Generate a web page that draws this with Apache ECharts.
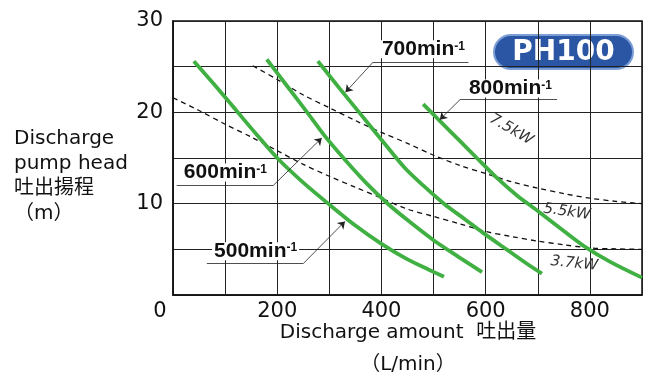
<!DOCTYPE html>
<html>
<head>
<meta charset="utf-8">
<title>PH100 性能曲線</title>
<script src="https://cdn.jsdelivr.net/npm/echarts@6/dist/echarts.min.js"></script>
<style>
    body { margin: 0; background: #fff; }
    #main { width: 648px; height: 374px; }
</style>
</head>
<body>
<div id="main"></div>
<script>
// 回転数ごとの吐出量-揚程 [L/min, m]
var rpm500 = [[40,25.6],[80,23.0],[120,20.3],[160,17.6],[200,15.0],[250,12.3],[300,9.9],[350,7.6],[400,5.6],[450,3.9],[490,2.8],[520,2.0]];
var rpm600 = [[180,25.8],[220,22.8],[260,19.8],[290,17.5],[330,14.8],[370,12.3],[410,10.1],[450,8.2],[500,6.0],[550,4.1],[593,2.5]];
var rpm700 = [[278,25.6],[320,22.6],[360,19.8],[400,17.0],[445,13.9],[480,12.0],[520,10.0],[560,8.3],[595,6.8],[640,5.0],[680,3.4],[708,2.35]];
var rpm800 = [[480,20.9],[513,19.0],[550,16.9],[583,15.0],[620,12.9],[660,10.9],[700,9.2],[750,7.0],[790,5.3],[840,3.6],[900,1.9]];

// 動力の境界 (7.5kW / 5.5kW, 5.5kW / 3.7kW)
var kwUpper = [[153,25.1],[200,23.6],[250,21.9],[300,20.5],[350,19.1],[400,17.8],[450,16.6],[500,15.3],[550,14.2],[600,13.3],[650,12.4],[700,11.7],[750,11.1],[800,10.6],[850,10.25],[900,10.0]];
var kwLower = [[0,21.6],[50,20.2],[100,18.7],[150,17.3],[200,15.8],[250,14.3],[300,13.0],[350,11.8],[400,10.6],[450,9.4],[500,8.6],[550,7.8],[600,6.95],[650,6.4],[700,5.9],[750,5.5],[800,5.15],[850,5.05],[900,5.0]];

var xTicks = [0, 200, 400, 600, 800];
var yTicks = [10, 20, 30];
var speeds = ['500', '600', '700', '800'];
var powers = ['7.5kW', '5.5kW', '3.7kW'];

var myChart = echarts.init(document.getElementById('main'));

var green = '#3fb041';
var ink = '#111';

// 回転数ラベル + 引出線
function speedMarks(name, textAt, lineL, lineR, from, tip) {
    return {
        markPoint: {
            silent: true,
            symbol: 'circle',
            symbolSize: 0,
            data: [{ name: name, coord: textAt }],
            label: {
                show: true,
                position: 'right',
                distance: 0,
                backgroundColor: '#fff',
                padding: [0, 2, 0, 2],
                formatter: function (p) { return '{a|' + p.name + 'min}{s|-1}'; },
                rich: {
                    a: { fontFamily: 'Liberation Sans', fontWeight: 'bold', fontSize: 21, color: ink, lineHeight: 18 },
                    s: { fontFamily: 'Liberation Sans', fontWeight: 'bold', fontSize: 12, color: ink, lineHeight: 8, verticalAlign: 'top' }
                }
            }
        },
        markLine: {
            silent: true,
            symbol: ['none', 'none'],
            label: { show: false },
            lineStyle: { color: '#222', width: 0.8, type: 'solid' },
            data: [
                [{ coord: lineL }, { coord: lineR }],
                [{ coord: from }, { coord: tip, symbol: 'arrow', symbolSize: 7 }]
            ]
        }
    };
}

function kwMarks(items) {
    return {
        markPoint: {
            silent: true,
            symbol: 'circle',
            symbolSize: 0,
            data: items.map(function (it) {
                return { name: it[0], coord: it[1], label: { rotate: it[2] } };
            }),
            label: {
                show: true,
                position: 'inside',
                formatter: '{b}',
                color: '#333',
                fontFamily: 'DejaVu Sans',
                fontStyle: 'italic',
                fontSize: 15
            }
        }
    };
}

function pumpLine(data, extra) {
    return Object.assign({
        type: 'line',
        data: data,
        smooth: 0.3,
        showSymbol: false,
        silent: true,
        lineStyle: { color: green, width: 3.8 }
    }, extra);
}

function powerLine(data, extra) {
    return Object.assign({
        type: 'line',
        data: data,
        smooth: 0.3,
        showSymbol: false,
        silent: true,
        lineStyle: { color: ink, width: 1.3, type: [5, 4] }
    }, extra);
}

var option = {
    animation: false,
    grid: {
        left: 173, top: 21, width: 469, height: 274,
        show: true, borderColor: ink, borderWidth: 1.5
    },
    xAxis: {
        type: 'value', min: 0, max: 900, interval: 100,
        axisLine: { show: true, lineStyle: { color: ink, width: 1.5 } },
        axisTick: { show: false },
        splitLine: { show: true, lineStyle: { color: '#222', width: 1 } },
        axisLabel: {
            color: ink, fontFamily: 'DejaVu Sans', fontSize: 21, margin: 6,
            formatter: function (v) {
                if (xTicks.indexOf(v) < 0) return '';
                return v === 0 ? '{z|0}' : String(v);
            },
            rich: { z: { color: ink, fontFamily: 'DejaVu Sans', fontSize: 21, padding: [0, 26, 0, 0] } }
        }
    },
    yAxis: {
        type: 'value', min: 0, max: 30, interval: 5,
        axisLine: { show: true, lineStyle: { color: ink, width: 1.5 } },
        axisTick: { show: false },
        splitLine: { show: true, lineStyle: { color: '#222', width: 1 } },
        axisLabel: {
            color: ink, fontFamily: 'DejaVu Sans', fontSize: 21, margin: 10,
            formatter: function (v) { return yTicks.indexOf(v) < 0 ? '' : String(v); }
        }
    },
    graphic: [
        {
            type: 'text', left: 14, top: 126,
            style: {
                text: 'Discharge\npump head\n吐出揚程\n（m）',
                fill: ink, fontFamily: 'DejaVu Sans, "Noto Sans CJK JP"', fontSize: 20, lineHeight: 25
            }
        },
        {
            type: 'text', x: 408, y: 317,
            style: {
                text: 'Discharge amount  吐出量\n（L/min）',
                fill: ink, fontFamily: 'DejaVu Sans, "Noto Sans CJK JP"', fontSize: 20, lineHeight: 32,
                align: 'center'
            }
        },
        {
            type: 'group', left: 493, top: 34,
            children: [
                {
                    type: 'rect',
                    shape: { x: 0, y: 0, width: 139, height: 34, r: 17 },
                    style: { fill: '#2b56a3', stroke: '#7c9ed6', lineWidth: 2 }
                },
                {
                    type: 'text', x: 69.5, y: 18,
                    style: {
                        text: 'PH100', fill: '#fff', fontFamily: 'DejaVu Sans',
                        fontWeight: 'bold', fontSize: 28, align: 'center', verticalAlign: 'middle'
                    }
                }
            ]
        }
    ],
    series: [
        powerLine(kwUpper, kwMarks([[powers[0], [649, 18.1], -30], [powers[1], [756, 9.1], -8]])),
        powerLine(kwLower, kwMarks([[powers[2], [770, 3.45], -6]])),
        pumpLine(rpm500, speedMarks(speeds[0], [75, 4.8], [65, 3.44], [250, 3.44], [250, 3.44], [330, 8.06])),
        pumpLine(rpm600, speedMarks(speeds[1], [17, 13.4], [7, 12.0], [192.5, 12.0], [192.5, 12.0], [285.5, 17.2])),
        pumpLine(rpm700, speedMarks(speeds[2], [397, 26.9], [384, 25.5], [567, 25.5], [384, 25.5], [331, 22.2])),
        pumpLine(rpm800, speedMarks(speeds[3], [564, 22.6], [551, 21.4], [737, 21.4], [551, 21.4], [512, 19.2]))
    ]
};

myChart.setOption(option);
</script>
</body>
</html>
